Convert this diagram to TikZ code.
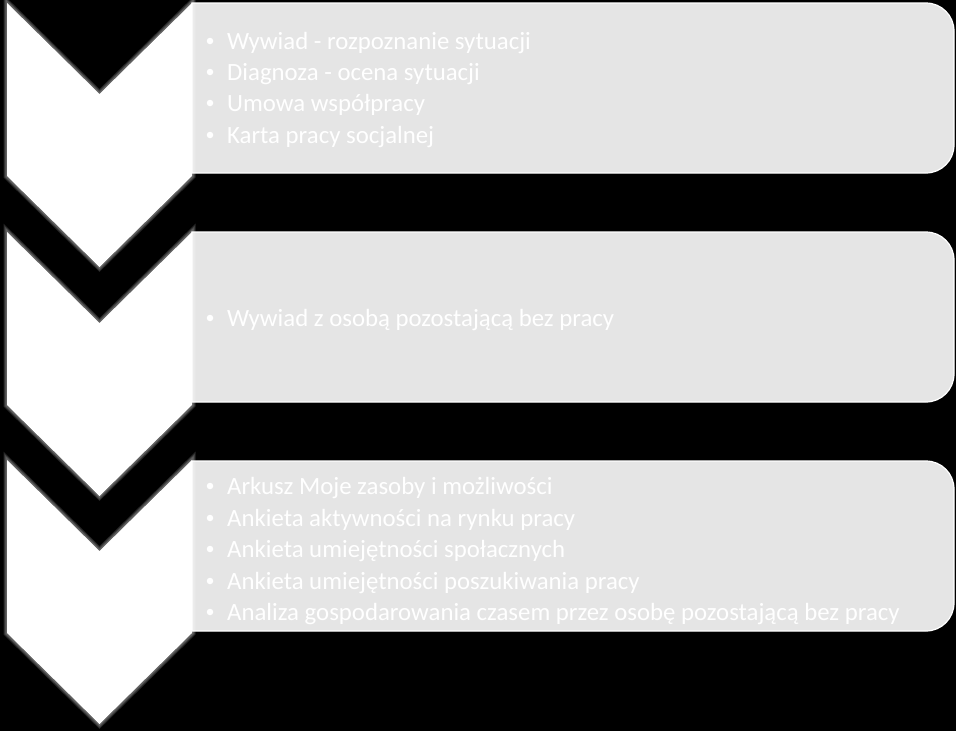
\documentclass[tikz,border=0pt]{standalone}
\usepackage{fontspec}
\setmainfont{Carlito}
\begin{document}
\begin{tikzpicture}[x=1pt,y=-1pt,
  chev/.style={fill=white},
  glow/.style={draw=white,line join=miter,opacity=0.15},
  panel/.style={fill=boxgray,draw=white,line width=1.2pt},
  item/.style={anchor=base west,inner sep=0pt,text=white,font=\fontsize{24.8}{29}\selectfont},
  bul/.style={circle,fill=white,inner sep=0pt,minimum size=6.5pt}]
\definecolor{boxgray}{HTML}{E5E5E5}
\useasboundingbox (0,0) rectangle (956,731);
\fill[black] (0,0) rectangle (956,731);
% panels
\foreach \t/\n in {3/p1,232/p2,461/p3}{
  \draw[panel] (192,\t) [rounded corners=28pt] -- (954,\t) -- (954,\t+170) [sharp corners] -- (192,\t+170) -- cycle;
}
% chevrons
\foreach \t/\n in {3/c1,232/c2,460/c3}{
  \foreach \w in {7,5,3}{
    \draw[glow,line width=\w pt] (7,\t) -- (99.5,\t+91) -- (192,\t) -- (192,\t+173) -- (99.5,\t+264) -- (7,\t+173) -- cycle;
  }
  \fill[chev] (7,\t) -- (99.5,\t+91) -- (192,\t) -- (192,\t+173) -- (99.5,\t+264) -- (7,\t+173) -- cycle;
}
% texts
\foreach \y/\txt [count=\i] in {49/{Wywiad - rozpoznanie sytuacji},80/{Diagnoza - ocena sytuacji},111/{Umowa współpracy},143/{Karta pracy socjalnej}}{
  \node[bul] (b1\i) at (210,\y-8) {};
  \node[item] (t1\i) at (227,\y) {\txt};
}
\node[bul] (b21) at (210,318) {};
\node[item] (t21) at (227,326) {Wywiad z osobą pozostającą bez pracy};
\foreach \y/\txt [count=\i] in {494/{Arkusz Moje zasoby i możliwości},526/{Ankieta aktywności na rynku pracy},557/{Ankieta umiejętności społacznych},589/{Ankieta umiejętności poszukiwania pracy},620/{Analiza gospodarowania czasem przez osobę pozostającą bez pracy}}{
  \node[bul] (b3\i) at (210,\y-8) {};
  \node[item] (t3\i) at (227,\y) {\txt};
}
\end{tikzpicture}
\end{document}
